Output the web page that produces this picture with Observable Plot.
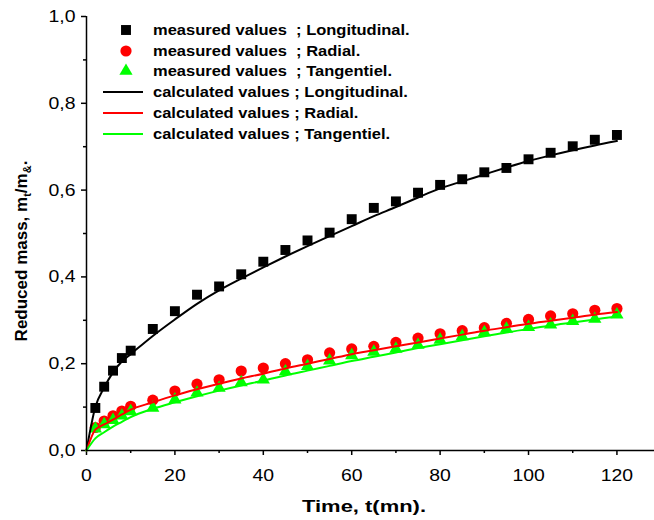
<!DOCTYPE html>
<html><head><meta charset="utf-8">
<script src="https://cdn.jsdelivr.net/npm/d3@7"></script>
<script src="https://cdn.jsdelivr.net/npm/@observablehq/plot@0.6"></script>
<style>
body{margin:0;background:#fff;}
#chart svg{display:block;}
</style></head><body><div id="chart"></div>
<script>
// measured times (min)
const tMeasured = [2,4,6,8,10,15,20,25,30,35,40,45,50,55,60,65,70,75,80,85,90,95,100,105,110,115,120];
const longMeasured = [0.098,0.147,0.184,0.213,0.230,0.280,0.321,0.359,0.378,0.406,0.435,0.462,0.484,0.502,0.533,0.559,0.574,0.594,0.612,0.625,0.641,0.651,0.671,0.686,0.701,0.716,0.727];
const radMeasured  = [0.053,0.068,0.080,0.091,0.102,0.116,0.137,0.153,0.163,0.183,0.190,0.200,0.209,0.225,0.234,0.240,0.249,0.259,0.269,0.276,0.283,0.293,0.302,0.310,0.315,0.323,0.327];
const tanMeasured  = [0.050,0.060,0.070,0.080,0.090,0.098,0.117,0.133,0.144,0.157,0.163,0.182,0.194,0.207,0.219,0.227,0.234,0.243,0.255,0.263,0.272,0.280,0.284,0.290,0.298,0.303,0.313];
// calculated curves
const tCalc   = [0,2,4,6,8,10,15,20,25,30,35,40,45,50,55,60,65,70,75,80,85,90,95,100,105,110,115,120];
const longCalc = [0,0.100,0.145,0.180,0.205,0.222,0.264,0.302,0.338,0.369,0.396,0.422,0.447,0.471,0.494,0.517,0.540,0.561,0.583,0.604,0.620,0.636,0.652,0.667,0.680,0.692,0.703,0.713];
const radCalc  = [0,0.048,0.060,0.071,0.083,0.094,0.111,0.127,0.141,0.154,0.166,0.177,0.189,0.200,0.211,0.222,0.231,0.240,0.249,0.258,0.267,0.276,0.284,0.292,0.299,0.306,0.313,0.319];
const tanCalc  = [0,0.028,0.042,0.055,0.066,0.077,0.096,0.111,0.125,0.138,0.150,0.161,0.173,0.184,0.195,0.206,0.216,0.226,0.236,0.245,0.254,0.263,0.272,0.280,0.288,0.295,0.302,0.309];

const xTicks = [0,20,40,60,80,100,120];
const xMinor = [10,30,50,70,90,110];
const yTicks = [0,0.2,0.4,0.6,0.8,1.0];
const yMinor = [0.1,0.3,0.5,0.7,0.9];

const seriesNames = ["Longitudinal.","Radial.","Tangentiel."];
const seriesColors = ["#000000","#ff0000","#00ff00"];
const seriesSymbols = ["square","circle","triangle"];
const measuredLabel = "measured values  ; ";
const calculatedLabel = "calculated values ; ";

const measured = [longMeasured, radMeasured, tanMeasured].flatMap((arr, s) =>
  arr.map((v, i) => ({t: tMeasured[i], v, s})));
const calculated = [longCalc, radCalc, tanCalc].flatMap((arr, s) =>
  arr.map((v, i) => ({t: tCalc[i], v, s})));

const symR = [5.6, 5.6, 4.9];
const FONT = "'Liberation Sans', Arial, sans-serif";

const plot = Plot.plot({
  width: 654, height: 520,
  marginLeft: 86, marginRight: 0, marginTop: 16, marginBottom: 70,
  x: {domain: [0, 128.5]},
  y: {domain: [0, 1]},
  style: {fontFamily: FONT, fontSize: "17px", color: "#000", background: "#fff"},
  marks: [
    Plot.axisX({ticks: xTicks, tickSize: 5, tickPadding: 13, strokeWidth: 1.5, label: null, tickFormat: d => String(d)}),
    Plot.axisX({ticks: xMinor, tickSize: 3, strokeWidth: 1.5, label: null, tickFormat: () => ""}),
    Plot.axisY({ticks: yTicks, tickSize: 5, tickPadding: 6, strokeWidth: 1.5, label: null, tickFormat: d => d.toFixed(1).replace(".", ",")}),
    Plot.axisY({ticks: yMinor, tickSize: 3, strokeWidth: 1.5, label: null, tickFormat: () => ""}),
    ...[0,1,2].map(s => Plot.dot(measured.filter(d => d.s === s), {
      x: "t", y: "v", symbol: () => seriesSymbols[s], r: symR[s],
      fill: seriesColors[s], stroke: "none"
    })),
    ...[0,1,2].map(s => Plot.line(calculated.filter(d => d.s === s), {
      x: "t", y: "v", stroke: seriesColors[s], strokeWidth: 2, curve: "monotone-x"
    })),
    Plot.ruleY([0], {stroke: "#000", strokeWidth: 1.5}),
    Plot.ruleX([0], {stroke: "#000", strokeWidth: 1.5})
  ]
});
document.getElementById("chart").appendChild(plot);

const svg = d3.select(plot);
function stretch(sel, k) {
  sel.each(function () {
    const len = this.getComputedTextLength();
    if (len > 0) {
      this.setAttribute("textLength", (len * k).toFixed(1));
      this.setAttribute("lengthAdjust", "spacingAndGlyphs");
    }
  });
}
// widen tick labels slightly, as in the reference
stretch(svg.selectAll("g[aria-label='x-axis tick label'] text, g[aria-label='y-axis tick label'] text"), 1.14);

// legend
const rowY = [30, 51, 71, 92, 113, 134];
const lg = svg.append("g").attr("font-family", FONT).attr("font-weight", "bold")
  .attr("font-size", 15).attr("text-anchor", "start");
seriesNames.forEach((name, s) => {
  const y = rowY[s];
  lg.append("path")
    .attr("transform", `translate(126,${y})`)
    .attr("d", d3.symbol(
      s === 0 ? d3.symbolSquare : s === 1 ? d3.symbolCircle : d3.symbolTriangle,
      Math.PI * symR[s] * symR[s])())
    .attr("fill", seriesColors[s]);
  lg.append("text").attr("x", 153).attr("y", y).attr("dy", "0.35em").text(measuredLabel + name);
});
seriesNames.forEach((name, s) => {
  const y = rowY[s + 3];
  lg.append("line").attr("x1", 103).attr("x2", 143).attr("y1", y).attr("y2", y)
    .attr("stroke", seriesColors[s]).attr("stroke-width", 2);
  lg.append("text").attr("x", 153).attr("y", y).attr("dy", "0.35em").text(calculatedLabel + name);
});
stretch(lg.selectAll("text"), 1.10);

// axis titles
svg.append("text").attr("x", 364).attr("y", 512).attr("text-anchor", "middle")
  .attr("font-family", FONT).attr("font-weight", "bold").attr("font-size", 17)
  .attr("textLength", 124).attr("lengthAdjust", "spacingAndGlyphs")
  .text("Time, t(mn).");
const yt = svg.append("text").attr("transform", "translate(27,251) rotate(-90)")
  .attr("text-anchor", "middle").attr("font-family", FONT).attr("font-weight", "bold").attr("font-size", 17);
yt.append("tspan").text("Reduced mass, m");
yt.append("tspan").attr("dy", 4).attr("font-size", 11).text("t");
yt.append("tspan").attr("dy", -4).text("/m");
yt.append("tspan").attr("dy", 4).attr("font-size", 11).text("&");
yt.append("tspan").attr("dy", -4).text(".");
</script></body></html>
